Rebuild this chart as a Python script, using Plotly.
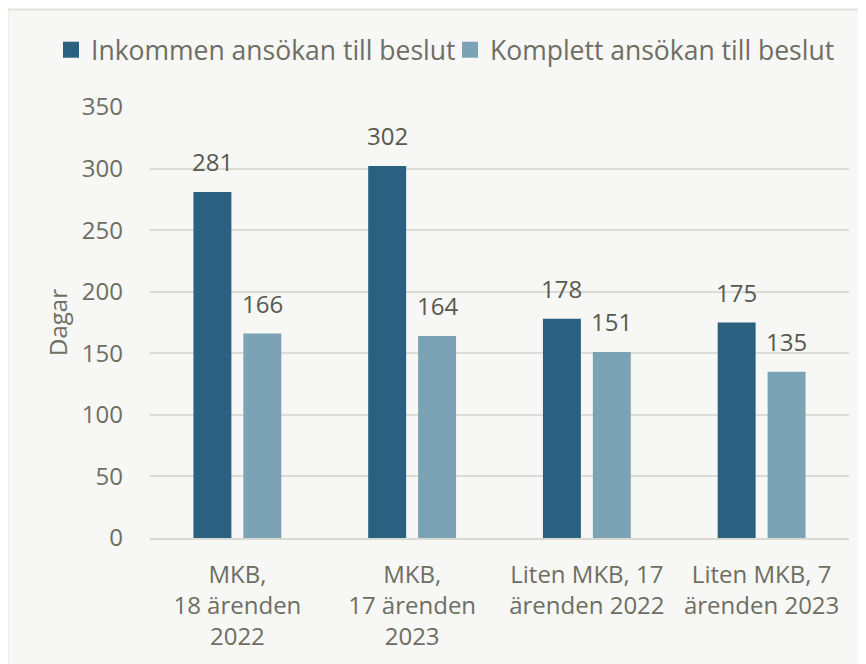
import plotly.graph_objects as go

categories = ["MKB,<br>18 ärenden<br>2022", "MKB,<br>17 ärenden<br>2023",
              "Liten MKB, 17<br>ärenden 2022", "Liten MKB, 7<br>ärenden 2023"]
series_names = ["Inkommen ansökan till beslut", "Komplett ansökan till beslut"]
inkommen = [281, 302, 178, 175]
komplett = [166, 164, 151, 135]
y_ticks = [0, 50, 100, 150, 200, 250, 300, 350]

dark = "#2a6080"
light = "#7ba2b5"
txt = "#6e6e62"
lbl = "#58584f"
font = "Open Sans"

W, H = 866, 664
l, t = 142, 99
pw, ph = 699, 431
r, b = W - l - pw, H - t - ph

fig = go.Figure()
series = [(series_names[0], inkommen, dark, -25, "legend", 43),
          (series_names[1], komplett, light, 25, "legend2", 442)]
legend_cfg = {}
for name, vals, col, dx, lg, lx in series:
    fig.add_trace(go.Bar(
        x=categories, y=vals, name=name, marker=dict(color=col, line=dict(width=0)),
        showlegend=False,
    ))
    # legend entry with a larger square symbol
    fig.add_trace(go.Scatter(
        x=[None], y=[None], mode="markers", name=name, legend=lg,
        marker=dict(symbol="square", size=16, color=col), showlegend=True,
    ))
    for c, v in zip(categories, vals):
        fig.add_annotation(x=c, y=v, text=str(v), showarrow=False, xshift=dx,
                           yanchor="bottom", yshift=12,
                           font=dict(family=font, size=24, color=lbl))
    legend_cfg[lg] = dict(orientation="h", xref="container", yref="container",
                          x=lx / W, xanchor="left", y=1 - 42 / H, yanchor="middle",
                          font=dict(size=26.5, color=txt), bgcolor="rgba(0,0,0,0)")

fig.add_shape(type="rect", xref="paper", yref="paper",
              x0=(-0.5 - l) / pw, x1=1.2, y0=-0.5, y1=(ph + t - 1.5) / ph,
              fillcolor="#f7f7f5", line=dict(color="#e2e2de", width=2), layer="below")

fig.update_layout(
    width=W, height=H, margin=dict(l=l, r=r, t=t, b=b, autoexpand=False),
    paper_bgcolor="white", plot_bgcolor="rgba(0,0,0,0)",
    barmode="group", bargap=0.4286, bargroupgap=0.24,
    font=dict(family=font, size=24, color=txt),
    legend=legend_cfg["legend"], legend2=legend_cfg["legend2"],
    showlegend=True,
)
fig.update_yaxes(range=[0, 350], tickvals=y_ticks, showgrid=True, gridcolor="#dcdcd6",
                 gridwidth=2, zeroline=False, ticklabelstandoff=26, automargin=False,
                 tickfont=dict(size=24, color=txt),
                 title=dict(text="Dagar", font=dict(size=24, color=txt), standoff=7))
fig.update_xaxes(showline=True, linecolor="#d9d9d4", linewidth=2, automargin=False,
                 tickfont=dict(size=24, color=txt), ticklabelstandoff=14)

fig.write_html("out.html")
